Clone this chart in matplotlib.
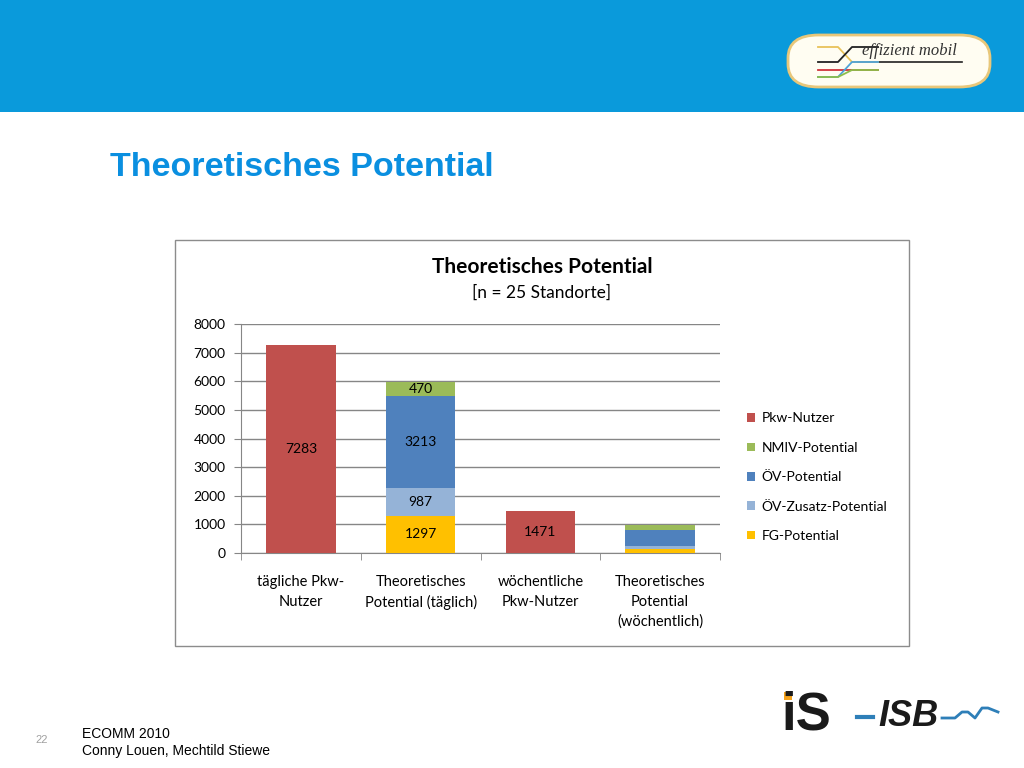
import numpy as np
import matplotlib
matplotlib.use('Agg')
import matplotlib.pyplot as plt
from matplotlib.patches import Rectangle, FancyBboxPatch
from matplotlib.lines import Line2D

# data
categories = ["tägliche Pkw-\nNutzer", "Theoretisches\nPotential (täglich)",
              "wöchentliche\nPkw-Nutzer", "Theoretisches\nPotential\n(wöchentlich)"]
pkw = [7283, 0, 1471, 0]
fg = [0, 1297, 0, 150]
oev_zusatz = [0, 987, 0, 95]
oev = [0, 3213, 0, 560]
nmiv = [0, 470, 0, 175]
show_labels = [True, True, True, False]

series_names = ["Pkw-Nutzer", "FG-Potential", "ÖV-Zusatz-Potential", "ÖV-Potential", "NMIV-Potential"]
series_values = [pkw, fg, oev_zusatz, oev, nmiv]
series_colors = ["#C0504D", "#FFC000", "#95B3D7", "#4F81BD", "#9BBB59"]
legend_order = ["Pkw-Nutzer", "NMIV-Potential", "ÖV-Potential", "ÖV-Zusatz-Potential", "FG-Potential"]

W, H = 1024, 768

def fx(x):
    return x / W

def fy(y):
    return 1 - y / H

fig = plt.figure(figsize=(10.24, 7.68), dpi=100)
fig.patch.set_facecolor('white')

# header band
fig.patches.append(Rectangle((0, fy(112)), 1, 112 / H, transform=fig.transFigure,
                             facecolor='#0A9ADB', edgecolor='none', zorder=-3))

# effizient mobil logo
fig.patches.append(FancyBboxPatch((fx(788), fy(87)), (990 - 788) / W, (87 - 35) / H,
                                  boxstyle="round,pad=0,rounding_size=0.03",
                                  transform=fig.transFigure, facecolor='#FFFDF2',
                                  edgecolor='#E8C77A', lw=2, zorder=-2))
fig.text(fx(862), fy(51), "effizient mobil", fontsize=12, style='italic',
         family='Liberation Serif', color='#333333', va='center', ha='left')
fig.lines.append(Line2D([fx(858), fx(962)], [fy(62), fy(62)], transform=fig.transFigure,
                        color='#222222', lw=1.2))
for col, ys in [('#E8C25A', [47, 47, 62, 62]), ('#222222', [62, 62, 47, 47]),
                ('#D0343C', [70, 70, 70, 70]), ('#4FA3D8', [77, 77, 62, 62]),
                ('#8DBE4A', [77, 77, 70, 70])]:
    xs = [818, 838, 852, 878]
    fig.lines.append(Line2D([fx(v) for v in xs], [fy(v) for v in ys],
                            transform=fig.transFigure, color=col, lw=1.3))

# slide title
fig.text(fx(110), fy(167), "Theoretisches Potential", fontsize=24.5, fontweight='bold',
         family='Liberation Sans', color='#0A8FE0', va='center', ha='left')

# chart frame
fig.patches.append(Rectangle((fx(175), fy(646)), (909 - 175) / W, (646 - 240) / H,
                             transform=fig.transFigure, facecolor='white',
                             edgecolor='#8C8C8C', lw=1, zorder=-1))

fig.text(fx(542), fy(267), "Theoretisches Potential", fontsize=15, fontweight='bold',
         family='Lato', color='black', ha='center', va='center')
fig.text(fx(542), fy(293), "[n = 25 Standorte]", fontsize=12.5,
         family='Lato', color='black', ha='center', va='center')

ax = fig.add_axes([fx(241), fy(553), (720 - 241) / W, (553 - 324) / H])
ax.set_facecolor('none')

x = np.arange(len(categories))
bottom = np.zeros(len(categories))
handles = {}
for name, vals, col in zip(series_names, series_values, series_colors):
    vals = np.array(vals, dtype=float)
    bars = ax.bar(x, vals, 0.58, bottom=bottom, color=col, zorder=3, label=name)
    handles[name] = bars
    for i, (v, b) in enumerate(zip(vals, bottom)):
        if v > 0 and show_labels[i]:
            ax.text(x[i], b + v / 2, f"{int(v)}", ha='center', va='center',
                    fontsize=10, family='Lato', color='black', zorder=4)
    bottom += vals

ax.set_xlim(-0.5, 3.5)
ax.set_ylim(0, 8000)
ax.set_yticks(np.arange(0, 8001, 1000))
ax.yaxis.grid(True, color='#868686', lw=1, zorder=1)
ax.set_xticks(x)
ax.set_xticklabels(categories, fontsize=10.5, family='Lato', linespacing=1.5)
ax.set_xticks(np.arange(-0.5, 4, 1), minor=True)
ax.tick_params(axis='x', which='major', length=0, pad=16)
ax.tick_params(axis='x', which='minor', length=5, color='#868686', direction='out')
ax.tick_params(axis='y', length=5, color='#868686', direction='out', pad=6)
for lab in ax.get_yticklabels():
    lab.set_family('Lato')
    lab.set_fontsize(10)
for s in ['top', 'right']:
    ax.spines[s].set_visible(False)
for s in ['left', 'bottom']:
    ax.spines[s].set_color('#868686')

leg = ax.legend([handles[n] for n in legend_order], legend_order, loc='upper left',
                bbox_to_anchor=(fx(734), fy(400)), bbox_transform=fig.transFigure,
                frameon=False, prop={'family': 'Lato', 'size': 10},
                handlelength=0.6, handleheight=0.6, handletextpad=0.5, labelspacing=1.25)

# footer
fig.text(fx(42), fy(740), "22", fontsize=8, family='Liberation Sans', color='#A0A0A0',
         ha='center', va='center')
fig.text(fx(82), fy(734), "ECOMM 2010", fontsize=10, family='Liberation Sans',
         color='black', va='center', ha='left')
fig.text(fx(82), fy(751), "Conny Louen, Mechtild Stiewe", fontsize=10, family='Liberation Sans',
         color='black', va='center', ha='left')

# iS-ISB logo
fig.text(fx(781), fy(716), "iS", fontsize=38, fontweight='bold', family='Liberation Sans',
         color='#1A1A1A', va='center', ha='left')
fig.lines.append(Line2D([fx(857), fx(873)], [fy(717), fy(717)], transform=fig.transFigure,
                        color='#2E7FB8', lw=3))
fig.text(fx(878), fy(716), "ISB", fontsize=26, fontweight='bold', style='italic',
         family='Liberation Sans', color='#1A1A1A', va='center', ha='left')
sq_x = [942, 955, 962, 968, 975, 982, 988, 998]
sq_y = [718, 718, 712, 712, 718, 708, 708, 712]
fig.lines.append(Line2D([fx(v) for v in sq_x], [fy(v) for v in sq_y],
                        transform=fig.transFigure, color='#2E7FB8', lw=2))
fig.patches.append(Rectangle((fx(784), fy(700)), 8 / W, 8 / H, transform=fig.transFigure,
                             facecolor='#F4A21C', edgecolor='none', zorder=1))

fig.savefig('out.png', dpi=100)
